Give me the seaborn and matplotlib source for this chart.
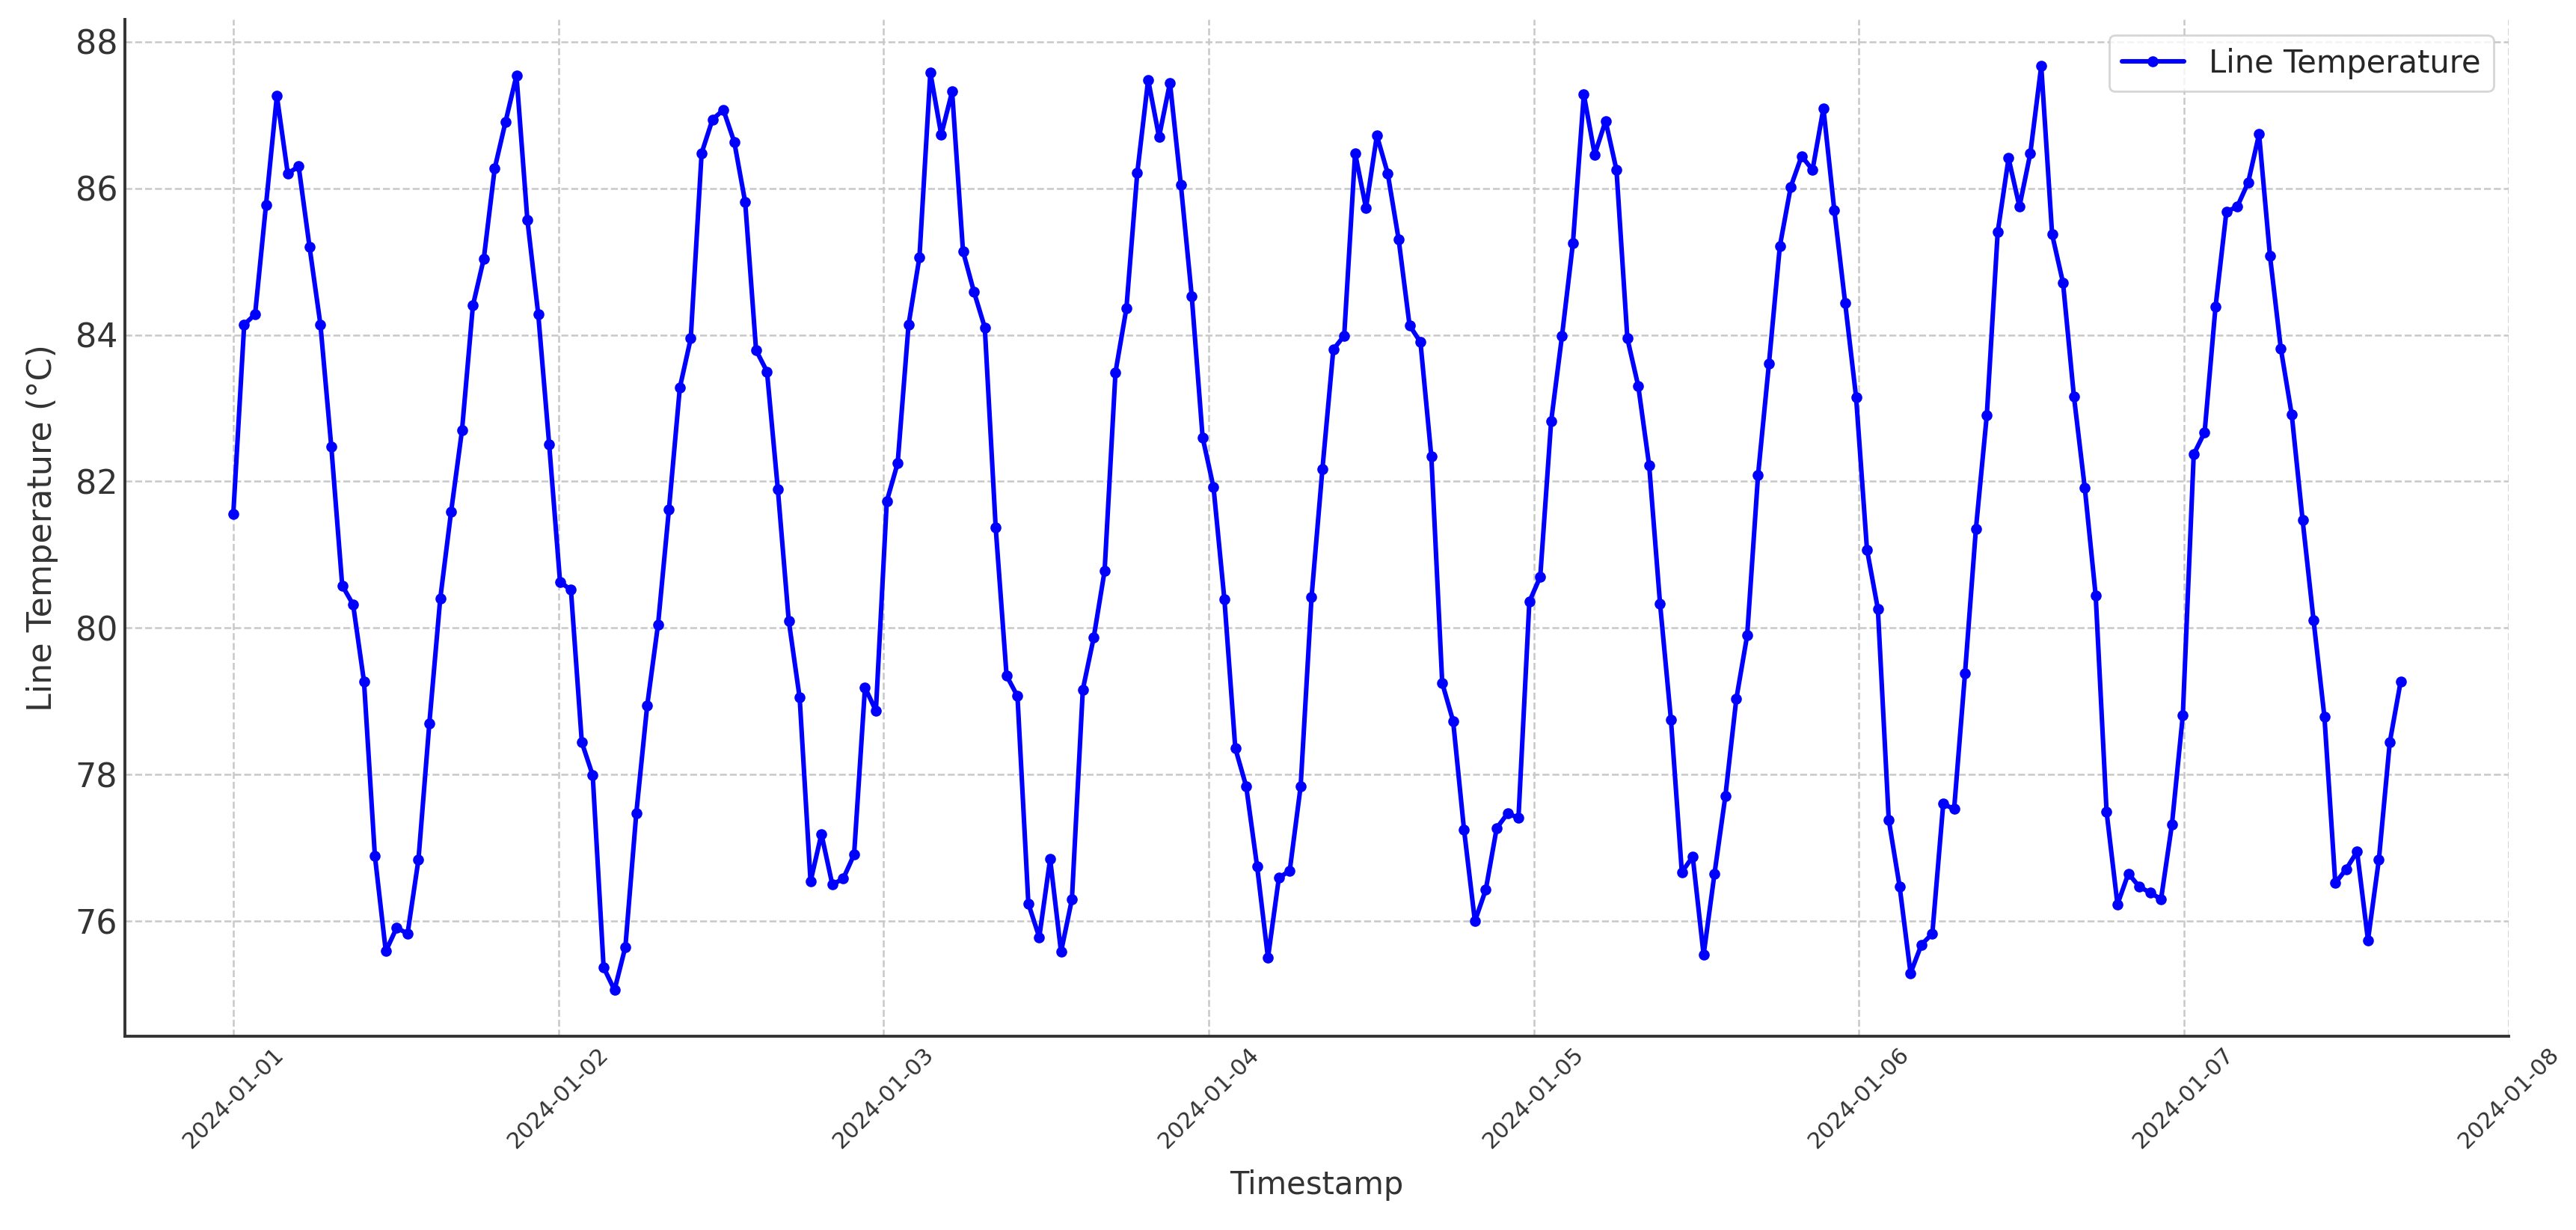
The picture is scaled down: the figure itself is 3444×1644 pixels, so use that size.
import matplotlib
matplotlib.use("Agg")
import matplotlib.pyplot as plt
import matplotlib.dates as mdates
import numpy as np
import pandas as pd
import seaborn as sns

# values, one point every ~48 min
day1 = [81.56, 84.14, 84.28, 85.77, 87.26, 86.20, 86.30, 85.20, 84.14, 82.47,
        80.58, 80.32, 79.27, 76.89, 75.59, 75.91, 75.83, 76.84, 78.70, 80.40,
        81.59, 82.70, 84.40, 85.04, 86.27, 86.91, 87.54, 85.57, 84.28, 82.51]
day2 = [80.63, 80.52, 78.44, 77.99, 75.37, 75.06, 75.65, 77.47, 78.94, 80.05,
        81.62, 83.28, 83.95, 86.48, 86.94, 87.07, 86.63, 85.81, 83.79, 83.50,
        81.89, 80.10, 79.05, 76.54, 77.19, 76.50, 76.58, 76.91, 79.19, 78.87]
day3 = [81.73, 82.25, 84.14, 85.06, 87.58, 86.73, 87.32, 85.14, 84.59, 84.10,
        81.37, 79.35, 79.07, 76.24, 75.78, 76.85, 75.58, 76.30, 79.16, 79.87,
        80.78, 83.49, 84.36, 86.21, 87.48, 86.70, 87.44, 86.05, 84.53, 82.60]
day4 = [81.92, 80.39, 78.36, 77.84, 76.75, 75.50, 76.59, 76.69, 77.84, 80.42,
        82.17, 83.80, 83.99, 86.48, 85.73, 86.72, 86.20, 85.30, 84.13, 83.90,
        82.34, 79.25, 78.73, 77.25, 76.00, 76.43, 77.27, 77.47, 77.41, 80.36]
day5 = [80.70, 82.82, 83.99, 85.25, 87.28, 86.46, 86.92, 86.25, 83.95, 83.30,
        82.22, 80.33, 78.75, 76.67, 76.88, 75.54, 76.65, 77.71, 79.03, 79.90,
        82.09, 83.61, 85.21, 86.02, 86.44, 86.25, 87.09, 85.70, 84.43, 83.15]
day6 = [81.07, 80.26, 77.38, 76.47, 75.29, 75.68, 75.83, 77.60, 77.53, 79.38,
        81.35, 82.90, 85.40, 86.41, 85.75, 86.48, 87.67, 85.37, 84.71, 83.16,
        81.91, 80.44, 77.49, 76.23, 76.65, 76.47, 76.39, 76.30, 77.32, 78.81]
day7 = [82.37, 82.67, 84.38, 85.68, 85.75, 86.08, 86.74, 85.08, 83.81, 82.91,
        81.47, 80.11, 78.79, 76.52, 76.71, 76.95, 75.74, 76.84, 78.44, 79.27]

temps = day1 + day2 + day3 + day4 + day5 + day6 + day7
timestamps = pd.date_range("2024-01-01 00:00", "2024-01-07 16:00", periods=len(temps))

df = pd.DataFrame({"Timestamp": timestamps, "Line Temperature": temps})

sns.set_style("whitegrid")
plt.rcParams['font.family'] = ['DejaVu Sans']

fig, ax = plt.subplots(figsize=(17.22, 8.22), dpi=200)
sns.lineplot(data=df, x="Timestamp", y="Line Temperature", ax=ax,
             color="blue", marker="o", markersize=4.5, markeredgecolor="blue",
             linewidth=2.2, label="Line Temperature")

ax.xaxis.set_major_locator(mdates.DayLocator())
ax.xaxis.set_major_formatter(mdates.DateFormatter("%Y-%m-%d"))
ax.grid(True, linestyle="--", color="#c8c8c8", linewidth=0.9)
for s in ["top", "right"]:
    ax.spines[s].set_visible(False)
for s in ["left", "bottom"]:
    ax.spines[s].set_color("#333333")
    ax.spines[s].set_linewidth(1.4)

ax.tick_params(axis="y", labelsize=16, direction="in", length=5, colors="#333333")
ax.tick_params(axis="x", labelsize=11, direction="in", length=5, colors="#333333", rotation=45)
ax.set_xlabel("Timestamp", fontsize=15, color="#333333", labelpad=8)
ax.set_ylabel("Line Temperature (°C)", fontsize=16, color="#333333", labelpad=8)
ax.legend(loc="upper right", fontsize=15)

fig.subplots_adjust(left=0.0485, right=0.974, top=0.984, bottom=0.1575)
fig.savefig("out.png", dpi=200)
